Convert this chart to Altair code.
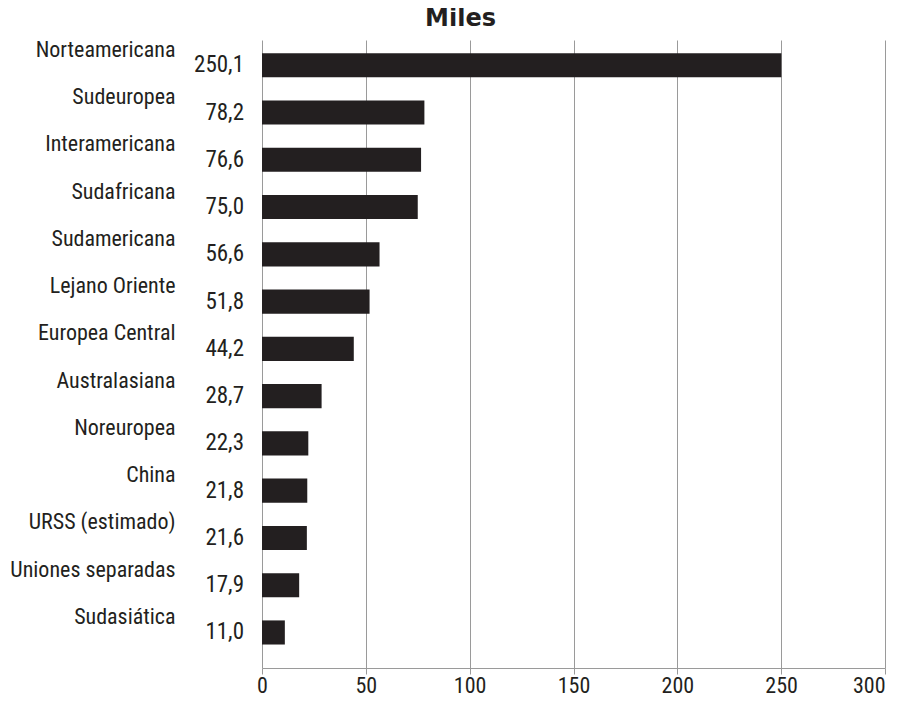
import altair as alt
import pandas as pd

categories = ["Norteamericana", "Sudeuropea", "Interamericana", "Sudafricana",
              "Sudamericana", "Lejano Oriente", "Europea Central", "Australasiana",
              "Noreuropea", "China", "URSS (estimado)", "Uniones separadas", "Sudasiática"]
values = [250.1, 78.2, 76.6, 75.0, 56.6, 51.8, 44.2, 28.7, 22.3, 21.8, 21.6, 17.9, 11.0]
labels = [f"{v:.1f}".replace(".", ",") for v in values]
x_ticks = [0, 50, 100, 150, 200, 250, 300]

df = pd.DataFrame({"cat": categories, "val": values, "lab": labels})

FONT = "Liberation Sans Narrow, Roboto Condensed, Roboto, sans-serif"
DARK = "#231f20"

y_enc = alt.Y("cat:N", sort=categories, title=None,
              scale=alt.Scale(paddingInner=0.49, paddingOuter=0.388, align=0.36),
              axis=alt.Axis(domain=False, ticks=False, grid=False, labelAlign="right",
                            labelBaseline="middle", labelPadding=87, labelOffset=-15.5,
                            labelFont=FONT, labelFontSize=22, labelColor=DARK,
                            labelLimit=300))

x_enc = alt.X("val:Q", title=None,
              scale=alt.Scale(domain=[0, 300], nice=False),
              axis=alt.Axis(values=x_ticks, grid=True, gridColor="#9a9a9a", gridWidth=1,
                            domainColor="#9a9a9a", tickColor="#9a9a9a", tickSize=6,
                            labelFont=FONT, labelFontSize=22, labelColor=DARK,
                            labelPadding=1, labelFlush=False,
                            labelAlign={"condition": {"test": "datum.value >= 300",
                                                      "value": "right"},
                                        "value": "center"}))

bars = alt.Chart(df).mark_bar(color=DARK).encode(x=x_enc, y=y_enc)

text = alt.Chart(df).mark_text(align="right", baseline="middle", dx=-18,
                               font=FONT, fontSize=23, color=DARK).encode(
    x=alt.datum(0), y=alt.Y("cat:N", sort=categories), text="lab:N")

chart = alt.layer(bars, text).properties(
    width=623, height=628,
    title=alt.Title("Miles", anchor="middle", dx=-113, offset=7,
                    font="DejaVu Sans", fontSize=24, fontWeight="bold", color=DARK),
    padding={"left": 254, "top": 32, "right": 4, "bottom": 27},
    autosize=alt.AutoSizeParams(type="none"),
).configure_view(stroke=None)

chart.save("out.html", embed_options={"renderer": "svg", "actions": False})
